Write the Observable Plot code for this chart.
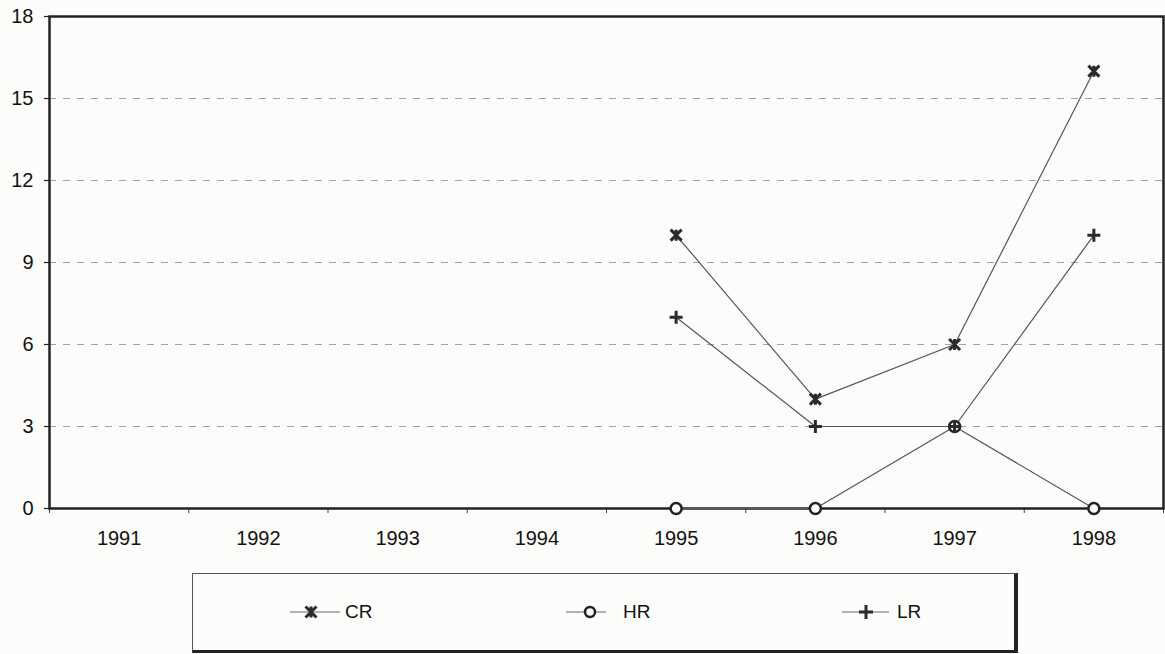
<!DOCTYPE html>
<html>
<head>
<meta charset="utf-8">
<script src="https://cdn.jsdelivr.net/npm/d3@7"></script>
<script src="https://cdn.jsdelivr.net/npm/@observablehq/plot@0.6"></script>
<style>
  html, body { margin: 0; padding: 0; background: #fcfcfa; }
  body { width: 1165px; height: 654px; position: relative; overflow: hidden; font-family: "Liberation Sans", Arial, sans-serif; }
  #chart { position: absolute; left: 0; top: 0; }
  #legend {
    position: absolute; left: 192px; top: 573px; width: 826px; height: 80px;
    box-sizing: border-box; border: 1px solid #555; border-right: 4px solid #222; border-bottom: 3px solid #222;
    background: #fcfcfa;
  }
  .item { position: absolute; top: 0; height: 100%; display: flex; align-items: center; font-size: 19px; color: #111; }
  .item svg { display: block; margin-right: 5px; }
</style>
</head>
<body>
<div id="chart"></div>
<div id="legend"></div>
<script>
// ---- data ----
const categories = [1991, 1992, 1993, 1994, 1995, 1996, 1997, 1998];
const dataYears = [1995, 1996, 1997, 1998];
const seriesNames = ["CR", "HR", "LR"];
const crValues = [10, 4, 6, 16];
const hrValues = [0, 0, 3, 0];
const lrValues = [7, 3, 3, 10];
const yTicks = [0, 3, 6, 9, 12, 15, 18];
const gridValues = [3, 6, 9, 12, 15];

const seriesValues = { CR: crValues, HR: hrValues, LR: lrValues };
const rows = seriesNames.flatMap(s => dataYears.map((yr, i) => ({ series: s, year: yr, value: seriesValues[s][i] })));
const boundaries = [categories[0] - 0.5, ...categories.map(c => c + 0.5)];

// ---- custom symbols ----
const starSymbol = {
  draw(ctx, size) {
    const r = Math.sqrt(size / Math.PI);
    ctx.moveTo(-r, -r); ctx.lineTo(r, r);
    ctx.moveTo(-r, r); ctx.lineTo(r, -r);
    ctx.moveTo(0, -r); ctx.lineTo(0, r);
  }
};
const plusSymbol = {
  draw(ctx, size) {
    const r = Math.sqrt(size / Math.PI);
    ctx.moveTo(-r, 0); ctx.lineTo(r, 0);
    ctx.moveTo(0, -r); ctx.lineTo(0, r);
  }
};

const chart = Plot.plot({
  width: 1165,
  height: 560,
  marginTop: 16,
  marginLeft: 49,
  marginRight: 2,
  marginBottom: 52,
  style: { fontFamily: "'Liberation Sans', Arial, sans-serif", fontSize: "20px", background: "#fcfcfa", color: "#111" },
  x: { type: "linear", domain: [categories[0] - 0.5, categories[categories.length - 1] + 0.5], label: null },
  y: { domain: [0, 18], label: null },
  marks: [
    Plot.ruleY(gridValues, { stroke: "#8a8a8a", strokeWidth: 1, strokeDasharray: "7,7", strokeOpacity: 0.8 }),
    Plot.axisY(yTicks, { tickSize: 5, tickPadding: 11, label: null, stroke: "#222", strokeWidth: 1.2 }),
    Plot.axisX(categories, { tickSize: 0, tickPadding: 22, label: null, tickFormat: d => String(d) }),
    Plot.axisX(boundaries, { tickSize: 5, tickFormat: () => "", label: null, stroke: "#444" }),
    Plot.frame({ stroke: "#222", strokeWidth: 2.5 }),
    Plot.line(rows, { x: "year", y: "value", z: "series", stroke: "#555", strokeWidth: 1.2 }),
    Plot.dot(rows.filter(d => d.series === "HR"), { x: "year", y: "value", r: 5.5, fill: "#fcfcfa", stroke: "#222", strokeWidth: 2.5 }),
    Plot.dot(rows.filter(d => d.series === "CR"), { x: "year", y: "value", r: 5.5, symbol: starSymbol, fill: "none", stroke: "#2a2a2a", strokeWidth: 3 }),
    Plot.dot(rows.filter(d => d.series === "LR"), { x: "year", y: "value", r: 6.5, symbol: plusSymbol, fill: "none", stroke: "#2a2a2a", strokeWidth: 3 })
  ]
});
document.getElementById("chart").appendChild(chart);

// ---- legend ----
const legendPos = { CR: 289 - 192, HR: 565 - 192, LR: 841 - 192 };
const icon = {
  CR: '<line x1="0" y1="10" x2="50" y2="10" stroke="#666" stroke-width="1"/><path d="M15.5,4.5L26.5,15.5M15.5,15.5L26.5,4.5M21,4.5L21,15.5" stroke="#2a2a2a" stroke-width="3" fill="none"/>',
  HR: '<line x1="0" y1="10" x2="40" y2="10" stroke="#666" stroke-width="1"/><circle cx="24" cy="10" r="5" fill="#fcfcfa" stroke="#222" stroke-width="2.5"/>',
  LR: '<line x1="0" y1="10" x2="47" y2="10" stroke="#666" stroke-width="1"/><path d="M17,10L31,10M24,3L24,17" stroke="#2a2a2a" stroke-width="3" fill="none"/>'
};
const iconW = { CR: 50, HR: 52, LR: 50 };
const legend = document.getElementById("legend");
seriesNames.forEach(s => {
  const div = document.createElement("div");
  div.className = "item";
  div.style.left = legendPos[s] + "px";
  div.innerHTML = `<svg width="${iconW[s]}" height="20">${icon[s]}</svg><span>${s}</span>`;
  legend.appendChild(div);
});
</script>
</body>
</html>
